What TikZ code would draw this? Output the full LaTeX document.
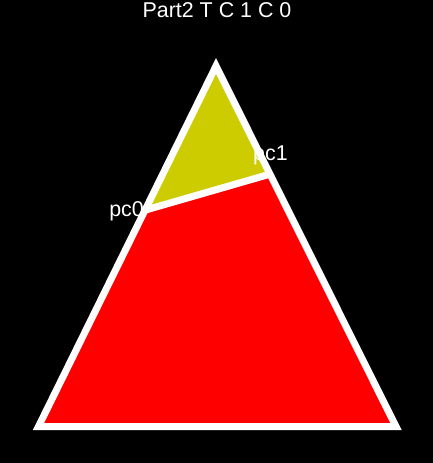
\documentclass[tikz,border=0pt]{standalone}
\usepackage{fontspec}
\setmainfont{Liberation Sans}
\usetikzlibrary{calc}
\definecolor{TopOlive}{RGB}{204,204,0}
\definecolor{BaseRed}{RGB}{255,0,0}
\begin{document}
\begin{tikzpicture}[x=1bp,y=-1bp,
  edge/.style={draw=white,line width=7bp,line join=miter},
  lbl/.style={text=white,font=\fontsize{21.5}{22}\selectfont,inner sep=0pt}
]
\fill[black] (0,0) rectangle (433,463);
\useasboundingbox (0,0) rectangle (433,463);
\coordinate (apex) at (216,66);
\coordinate (bl) at (38.5,426.5);
\coordinate (br) at (396,426.5);
\coordinate (pc0) at ($(bl)!0.6!(apex)$);
\coordinate (pc1) at ($(br)!0.7!(apex)$);
% the two parts
\fill[TopOlive] (apex) -- (pc1) -- (pc0) -- cycle;
\fill[BaseRed] (pc0) -- (pc1) -- (br) -- (bl) -- cycle;
% outline and cut
\draw[edge] (apex) -- (br) -- (bl) -- cycle;
\draw[edge] (pc0) -- (pc1);
\node[lbl,anchor=base east] (pc0lbl) at (144,217) {pc0};
\node[lbl,anchor=base west] (pc1lbl) at (253,161) {pc1};
\node[lbl,anchor=base] (title) at (217,18) {Part2 T C 1 C 0};
\end{tikzpicture}
\end{document}
